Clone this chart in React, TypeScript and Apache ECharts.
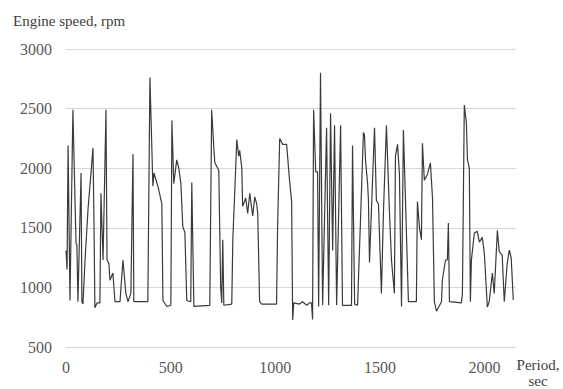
import React, { useEffect, useRef } from "react";
import * as echarts from "echarts";

const timeSec: number[] = [
  0, 5, 10, 19, 33, 43, 48, 52, 57, 72, 76, 81, 91, 105, 129, 134, 138, 148, 162, 167,
  177, 191, 196, 205, 210, 224, 234, 258, 272, 286, 296, 310, 320, 324, 391, 401, 410, 415,
  420, 439, 458, 463, 482, 501, 506, 515, 529, 539, 549, 558, 568, 577, 596, 601, 611, 687,
  696, 706, 711, 725, 730, 739, 744, 749, 754, 792, 797, 806, 816, 825, 830, 840, 844, 859,
  868, 878, 892, 902, 911, 916, 925, 935, 1006, 1011, 1021, 1035, 1054, 1068, 1078, 1083,
  1088, 1116, 1130, 1150, 1164, 1173, 1178, 1183, 1193, 1202, 1207, 1216, 1226, 1245, 1255,
  1264, 1274, 1283, 1293, 1312, 1321, 1364, 1369, 1379, 1393, 1407, 1421, 1426, 1431, 1441,
  1445, 1450, 1474, 1483, 1493, 1507, 1517, 1531, 1541, 1545, 1555, 1569, 1574, 1584, 1593,
  1603, 1612, 1622, 1636, 1674, 1679, 1689, 1698, 1703, 1712, 1727, 1741, 1751, 1760, 1770,
  1794, 1798, 1813, 1822, 1827, 1832, 1889, 1894, 1903, 1913, 1918, 1927, 1932, 1937, 1951,
  1965, 1975, 1989, 1999, 2013, 2022, 2037, 2046, 2061, 2070, 2084, 2094, 2108, 2118, 2127,
  2137,
];

const engineRpm: number[] = [
  1310, 1150, 2190, 890, 2490, 1730, 1370, 1360, 880, 1960, 880, 860, 1230, 1650, 2170, 1500,
  830, 870, 870, 1790, 1230, 2490, 1230, 1200, 1060, 1120, 880, 880, 1230, 950, 880, 950,
  2120, 880, 880, 2760, 2180, 1850, 1960, 1850, 1700, 890, 840, 850, 2400, 1870, 2070, 2000,
  1870, 1510, 1460, 890, 880, 1880, 840, 850, 2490, 2180, 2045, 2000, 1980, 1000, 870, 1400,
  850, 860, 1400, 1790, 2240, 2100, 2150, 2000, 1680, 1750, 1620, 1790, 1600, 1760, 1700,
  1620, 880, 860, 860, 1510, 2250, 2200, 2200, 1900, 1720, 726, 870, 860, 880, 850, 870, 870,
  730, 2490, 1970, 1970, 840, 2800, 850, 2340, 850, 2460, 1310, 2360, 850, 2360, 850, 850,
  2190, 860, 850, 1560, 2300, 2280, 2070, 1870, 1730, 1210, 2340, 1730, 1700, 950, 1650, 2360,
  1850, 1650, 1230, 950, 2100, 2200, 1950, 840, 2320, 1730, 880, 880, 1720, 1500, 1400, 2210,
  1900, 1950, 2045, 1750, 880, 800, 880, 1060, 1230, 1230, 1540, 880, 870, 950, 2530, 2380,
  2070, 2000, 880, 1230, 1456, 1470, 1380, 1420, 1280, 835, 880, 1120, 950, 1480, 1300, 1270,
  880, 1200, 1313, 1250, 895,
];

const xTicks: number[] = [0, 500, 1000, 1500, 2000];
const yTicks: number[] = [500, 1000, 1500, 2000, 2500, 3000];

const yTitle = "Engine speed, rpm";
const xTitle = "Period,\nsec";

export default function App() {
  const ref = useRef<HTMLDivElement>(null);

  useEffect(() => {
    document.body.style.margin = "0";
    if (!ref.current) return;
    const chart = echarts.init(ref.current, undefined, { renderer: "svg" });
    const data = timeSec.map((t, i) => [t, engineRpm[i]]);
    const font = "Liberation Serif";
    const rich = {
      s: { color: "#595959", fontFamily: font, fontSize: 16 },
    };
    chart.setOption({
      animation: false,
      backgroundColor: "#ffffff",
      textStyle: { fontFamily: font },
      grid: { left: 66, right: 47, top: 49, bottom: 42, containLabel: false },
      xAxis: {
        type: "value",
        min: 0,
        max: 2150,
        interval: 500,
        axisLine: { show: false },
        axisTick: { show: false },
        splitLine: { show: false },
        axisLabel: {
          color: "#595959",
          fontFamily: font,
          fontSize: 16,
          margin: 12,
          rich,
          formatter: (v: number) => (xTicks.includes(v) ? `{s|${v}}` : ""),
        },
      },
      yAxis: {
        type: "value",
        min: yTicks[0],
        max: yTicks[yTicks.length - 1],
        interval: 500,
        axisLine: { show: false },
        axisTick: { show: false },
        splitLine: { show: true, lineStyle: { color: "#d9d9d9", width: 1 } },
        axisLabel: {
          color: "#595959",
          fontFamily: font,
          fontSize: 16,
          margin: 14,
          rich,
          formatter: (v: number) => `{s|${v}}`,
        },
      },
      graphic: [
        {
          type: "text",
          left: 13,
          top: 13,
          style: { text: yTitle, fill: "#404040", fontFamily: font, fontSize: 15 },
        },
        {
          type: "text",
          x: 538,
          y: 357,
          style: {
            text: xTitle,
            fill: "#404040",
            fontFamily: font,
            fontSize: 15,
            align: "center",
            lineHeight: 16,
          },
        },
      ],
      series: [
        {
          type: "line",
          data,
          showSymbol: false,
          symbol: "none",
          lineStyle: { color: "#3a3a3a", width: 1.2 },
        },
      ],
    });
    return () => chart.dispose();
  }, []);

  return <div ref={ref} style={{ width: 563, height: 389 }} />;
}
